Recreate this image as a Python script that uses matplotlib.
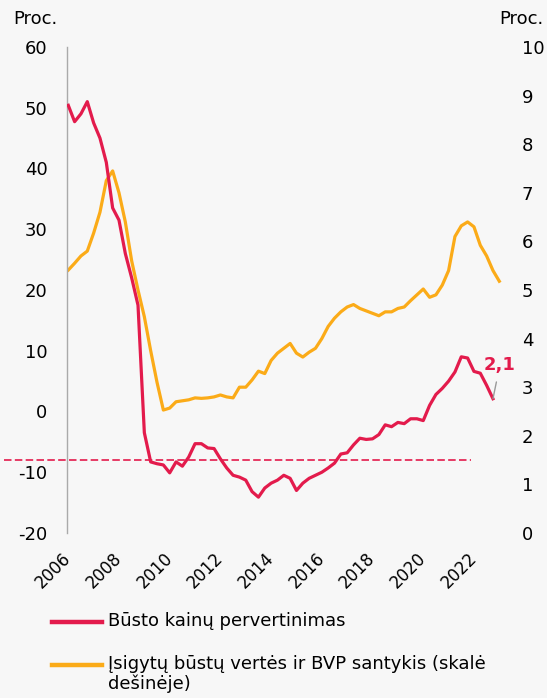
import numpy as np
import matplotlib
matplotlib.use("Agg")
import matplotlib.pyplot as plt
from matplotlib.lines import Line2D

plt.rcParams['font.family'] = ['DejaVu Sans']
plt.rcParams['axes.unicode_minus'] = False

# quarterly data, first point 2006 Q1
start_year = 2006

# Būsto kainų pervertinimas, proc. (left axis)
overvaluation = [
    50.4, 47.7, 49.0, 51.0, 47.5, 45.0, 41.0, 33.5,
    31.5, 26.0, 22.0, 17.5, -3.5, -8.3, -8.6, -8.8,
    -10.1, -8.3, -9.0, -7.5, -5.3, -5.3, -6.0, -6.1,
    -7.8, -9.3, -10.5, -10.8, -11.3, -13.2, -14.1, -12.6,
    -11.8, -11.3, -10.5, -11.0, -13.0, -11.8, -11.0, -10.5,
    -10.0, -9.3, -8.5, -7.0, -6.8, -5.5, -4.4, -4.6,
    -4.5, -3.8, -2.2, -2.5, -1.8, -2.0, -1.2, -1.2,
    -1.5, 1.0, 2.8, 3.8, 5.0, 6.5, 9.0, 8.8,
    6.6, 6.3, 4.3, 2.1,
]

# Įsigytų būstų vertės ir BVP santykis, proc. (right axis)
value_to_gdp = [
    5.41, 5.55, 5.70, 5.80, 6.17, 6.60, 7.25, 7.45,
    7.00, 6.40, 5.60, 5.00, 4.45, 3.75, 3.10, 2.53,
    2.57, 2.70, 2.72, 2.74, 2.78, 2.77, 2.78, 2.80,
    2.84, 2.80, 2.78, 3.00, 3.00, 3.15, 3.33, 3.28,
    3.55, 3.70, 3.80, 3.90, 3.70, 3.62, 3.72, 3.80,
    4.00, 4.25, 4.42, 4.55, 4.65, 4.70, 4.62, 4.57,
    4.52, 4.47, 4.55, 4.55, 4.62, 4.65, 4.78, 4.90,
    5.02, 4.85, 4.90, 5.10, 5.40, 6.10, 6.32, 6.40,
    6.30, 5.92, 5.70, 5.40, 5.18,
]

threshold = -8.0
threshold_span = (2003.45, 2021.9)

year_ticks = list(range(2006, 2023, 2))
left_ticks = list(range(-20, 61, 10))
right_ticks = list(range(0, 11))

red = '#e31b4c'
yellow = '#fbab18'
bg = '#f7f7f7'

t_red = start_year + np.arange(len(overvaluation)) / 4
t_yel = start_year + np.arange(len(value_to_gdp)) / 4

fig = plt.figure(figsize=(5.47, 6.98), dpi=100, facecolor=bg)
ax = fig.add_axes([0.1225, 0.2364, 0.8135, 0.6963])
ax.set_facecolor('none')
ax2 = ax.twinx()
ax2.set_facecolor('none')

ax.plot(t_red, overvaluation, color=red, lw=2.3, zorder=3)
ax2.plot(t_yel, value_to_gdp, color=yellow, lw=2.3, zorder=2)
ax.set_zorder(ax2.get_zorder() + 1)

ax.plot(threshold_span, [threshold, threshold], color=red, lw=1.2,
        dashes=(4.5, 2), clip_on=False)

ax.annotate('2,1', xy=(t_red[-1], overvaluation[-1]), xytext=(5, 18),
            textcoords='offset points', ha='center', va='bottom',
            color=red, fontsize=13, fontweight='bold',
            arrowprops=dict(arrowstyle='-', color='#999999', lw=1,
                            shrinkA=4, shrinkB=0))

ax.set_xlim(2005.95, 2023.5)
ax.set_ylim(-20, 60)
ax2.set_ylim(0, 10)
ax.set_yticks(left_ticks)
ax2.set_yticks(right_ticks)
ax.set_xticks(year_ticks)
ax.set_xticklabels([str(y) for y in year_ticks], rotation=45, ha='right',
                   va='center', rotation_mode='anchor')

for a in (ax, ax2):
    for s in a.spines.values():
        s.set_visible(False)
ax.spines['left'].set_visible(True)
ax.spines['left'].set_color('#aaaaaa')
ax.spines['left'].set_linewidth(1)

ax.tick_params(axis='y', length=0, pad=14, labelsize=13)
ax.tick_params(axis='x', length=0, pad=16, labelsize=12)
ax2.tick_params(axis='y', length=0, pad=7, labelsize=13)

fig.text(0.025, 0.973, 'Proc.', fontsize=13, ha='left', va='center')
fig.text(0.993, 0.973, 'Proc.', fontsize=13, ha='right', va='center')

# legend drawn by hand so the handle sits on the first text line
legend_items = [
    ('Būsto kainų pervertinimas', red, 0.109),
    ('Įsigytų būstų vertės ir BVP santykis (skalė\ndešinėje)', yellow, 0.047),
]
for label, color, y in legend_items:
    fig.add_artist(Line2D([0.095, 0.187], [y, y], color=color, lw=3.2,
                          transform=fig.transFigure))
    fig.text(0.197, y + 0.014, label, fontsize=13, ha='left', va='top',
             linespacing=1.1)

fig.savefig('out.png', dpi=100, facecolor=bg)
